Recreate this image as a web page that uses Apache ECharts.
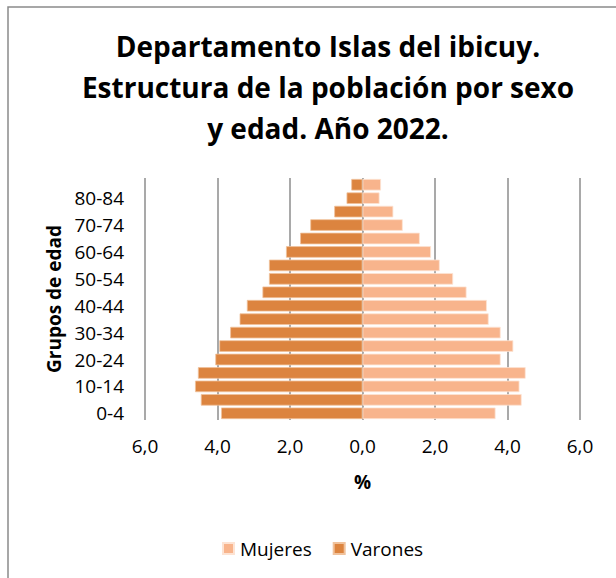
<!DOCTYPE html>
<html>
<head>
<meta charset="utf-8">
<script src="https://cdn.jsdelivr.net/npm/echarts@6/dist/echarts.min.js"></script>
<style>
  html, body { margin: 0; padding: 0; background: #fff; }
  #chart { width: 616px; height: 578px; }
</style>
</head>
<body>
<div id="chart"></div>
<script>
// age groups, bottom to top
const ageGroups = [
  "0-4", "5-9", "10-14", "15-19", "20-24", "25-29", "30-34", "35-39", "40-44",
  "45-49", "50-54", "55-59", "60-64", "65-69", "70-74", "75-79", "80-84", "85 y más"
];
// % of total population
const mujeres = [3.67, 4.39, 4.33, 4.50, 3.81, 4.16, 3.81, 3.48, 3.43,
  2.87, 2.50, 2.13, 1.89, 1.58, 1.11, 0.85, 0.47, 0.51];
const varones = [3.90, 4.46, 4.62, 4.54, 4.06, 3.95, 3.65, 3.39, 3.19,
  2.76, 2.58, 2.58, 2.11, 1.72, 1.44, 0.78, 0.44, 0.31];
const xTicks = [-6, 6, 2];

const FONT = "Open Sans";
const fmt = (v) => Math.abs(v).toFixed(1).replace(".", ",");

const chart = echarts.init(document.getElementById("chart"), null, { renderer: "svg" });

chart.setOption({
  backgroundColor: "#fff",
  textStyle: { fontFamily: FONT },
  graphic: [{
    type: "rect",
    shape: { x: 8, y: 7, width: 700, height: 700 },
    style: { fill: "none", stroke: "#8a8a8a", lineWidth: 1.5 },
    silent: true
  }],
  title: {
    text: "Departamento Islas del ibicuy.\nEstructura de la población por sexo\ny edad. Año 2022.",
    left: 328,
    textAlign: "center",
    top: 25,
    padding: 0,
    textStyle: {
      fontFamily: FONT,
      fontSize: 28,
      fontWeight: "bold",
      color: "#000",
      lineHeight: 41
    }
  },
  legend: {
    data: ["Mujeres", "Varones"],
    bottom: 15,
    left: 217,
    itemWidth: 11,
    itemHeight: 11,
    itemGap: 21,
    icon: "rect",
    textStyle: { fontFamily: FONT, fontSize: 19, color: "#000", padding: [0, 0, 0, 1] }
  },
  grid: { left: 145, right: 36, top: 178, bottom: 158 },
  xAxis: {
    type: "value",
    min: xTicks[0],
    max: xTicks[1],
    interval: xTicks[2],
    name: "%",
    nameLocation: "middle",
    nameGap: 52,
    nameTextStyle: { fontFamily: FONT, fontSize: 19, fontWeight: "bold", color: "#000" },
    axisLine: { show: false },
    axisTick: { show: false },
    axisLabel: { formatter: fmt, margin: 16, fontFamily: FONT, fontSize: 19, color: "#000" },
    splitLine: { show: true, lineStyle: { color: "#8c8c8c", width: 1.5 } }
  },
  yAxis: {
    type: "category",
    data: ageGroups,
    name: "Grupos de edad",
    nameLocation: "middle",
    nameGap: 76,
    nameRotate: 90,
    nameTextStyle: { fontFamily: FONT, fontSize: 19, fontWeight: "bold", color: "#000" },
    axisLine: { show: false },
    axisTick: { show: false },
    axisLabel: { interval: 1, margin: 21, fontFamily: FONT, fontSize: 19, color: "#000" }
  },
  series: [
    {
      name: "Mujeres",
      type: "bar",
      data: mujeres,
      barGap: "-100%",
      barCategoryGap: "14%",
      itemStyle: { color: "#F8B48C", borderColor: "#fde3d3", borderWidth: 0.8 },
      silent: true
    },
    {
      name: "Varones",
      type: "bar",
      data: varones.map((v) => -v),
      barGap: "-100%",
      barCategoryGap: "14%",
      itemStyle: { color: "#DC843F", borderColor: "#f0c29c", borderWidth: 0.8 },
      silent: true
    }
  ],
  animation: false
});
</script>
</body>
</html>
